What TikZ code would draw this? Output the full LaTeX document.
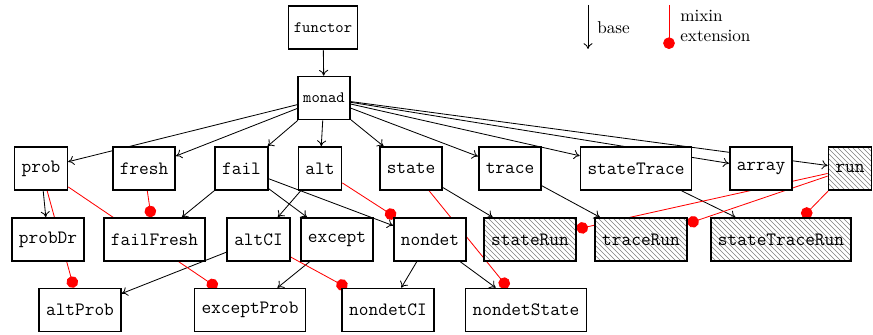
\documentclass[tikz,border=0pt]{standalone}
\usetikzlibrary{arrows.meta,patterns,backgrounds}
\begin{document}
\begin{tikzpicture}[x=0.6pt,y=-0.6pt,
 box/.style={draw,line width=0.95pt,fill=white,minimum height=25.8pt,inner xsep=4.2pt,inner ysep=0pt,font=\fontsize{11.3}{13}\selectfont\ttfamily},
 sbox/.style={box,inner xsep=3.3pt,font=\fontsize{9.5}{11}\selectfont\ttfamily},
 hatch/.style={box,preaction={fill=white},pattern=north west lines,pattern color=gray},
 base/.style={-{To[length=3.5pt,width=5.5pt]},line width=0.5pt},
 mixin/.style={-{Circle[length=7pt]},red,line width=0.5pt},
 legtext/.style={inner sep=0pt,anchor=west,align=left,font=\fontsize{10.3}{12}\selectfont}]
\useasboundingbox (0,0) rectangle (873,335);
% nodes
\node[sbox] (functor) at (323,27.5) {functor};
\node[sbox] (monad) at (324,98) {monad};
\node[box] (prob) at (41,168.5) {prob};
\node[box] (fresh) at (144,168.5) {fresh};
\node[box] (fail) at (241.5,168.5) {fail};
\node[box] (alt) at (320,168.5) {alt};
\node[box] (state) at (411,168.5) {state};
\node[box] (trace) at (510,168.5) {trace};
\node[box] (stateTrace) at (636,168.5) {stateTrace};
\node[box] (array) at (761,168.5) {array};
\node[hatch] (run) at (850,168.5) {run};
\node[box] (probDr) at (48,239.5) {probDr};
\node[box] (failFresh) at (154.5,239.5) {failFresh};
\node[box] (altCI) at (258.5,239.5) {altCI};
\node[box] (except) at (337,239.5) {except};
\node[box] (nondet) at (430,239.5) {nondet};
\node[hatch] (stateRun) at (530,239.5) {stateRun};
\node[hatch] (traceRun) at (641,239.5) {traceRun};
\node[hatch] (stateTraceRun) at (781,239.5) {stateTraceRun};
\node[box] (altProb) at (80,310) {altProb};
\node[box] (exceptProb) at (250,310) {exceptProb};
\node[box] (nondetCI) at (388,310) {nondetCI};
\node[box] (nondetState) at (526,310) {nondetState};
% legend
\coordinate (bs) at (588,5);
\coordinate (be) at (588,49);
\node[legtext] (basel) at (597,28) {base};
\coordinate (ms) at (669,5);
\coordinate (me) at (669,49);
\node[legtext] (mixl) at (680,26) {mixin\\extension};
\begin{pgfonlayer}{background}
\draw[base] (bs) -- (be);
\draw[mixin] (ms) -- (me);
\draw[base] (functor) -- (monad);
\foreach \t in {prob,fresh,fail,alt,state,trace,stateTrace,array,run}
  \draw[base] (monad) -- (\t);
\draw[base] (prob) -- (probDr);
\draw[base] (fail) -- (failFresh);
\draw[base] (fail) -- (except);
\draw[base] (fail) -- (nondet);
\draw[base] (alt) -- (altCI);
\draw[base] (altCI) -- (altProb);
\draw[base] (except) -- (exceptProb);
\draw[base] (nondet) -- (nondetCI);
\draw[base] (nondet) -- (nondetState);
\draw[base] (state) -- (stateRun);
\draw[base] (trace) -- (traceRun);
\draw[base] (stateTrace) -- (stateTraceRun);
\draw[mixin] (prob) -- (altProb);
\draw[mixin] (prob) -- (exceptProb);
\draw[mixin] (fresh) -- (failFresh);
\draw[mixin] (alt) -- (nondet);
\draw[mixin] (altCI) -- (nondetCI);
\draw[mixin] (state) -- (nondetState);
\draw[mixin] (run) -- (stateRun);
\draw[mixin] (run) -- (traceRun);
\draw[mixin] (run) -- (stateTraceRun);
\end{pgfonlayer}
\end{tikzpicture}
\end{document}
